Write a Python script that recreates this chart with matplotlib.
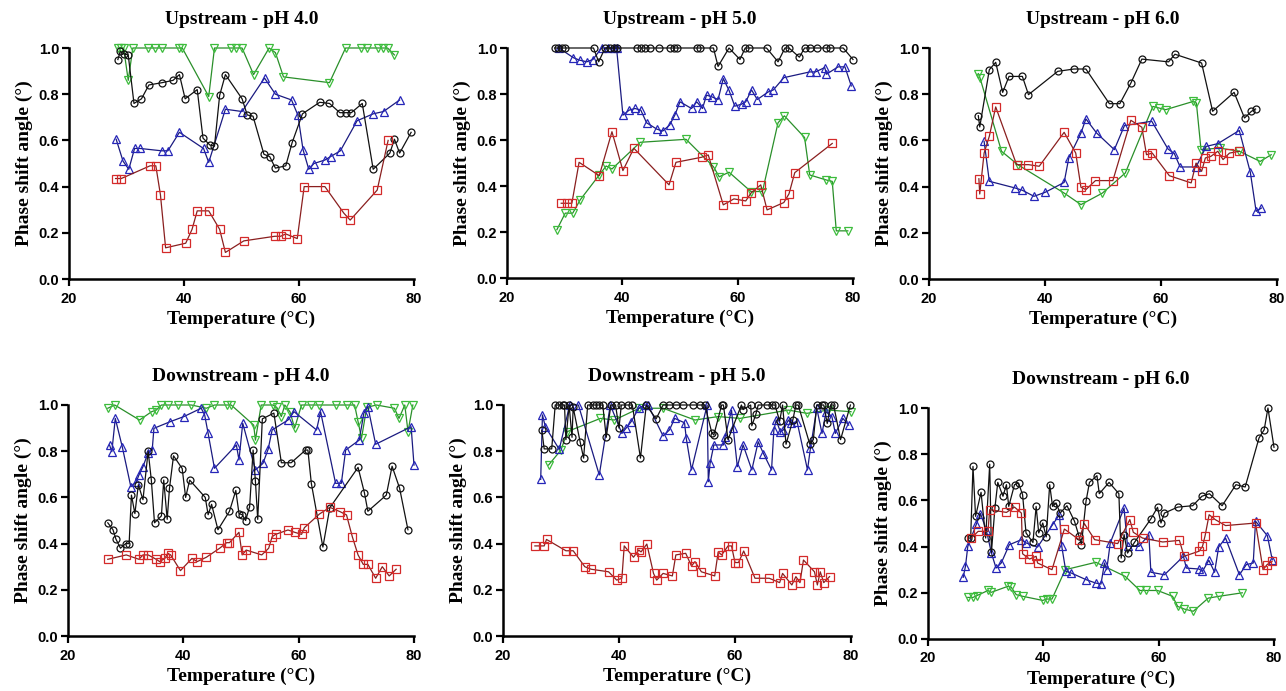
import matplotlib
matplotlib.use("Agg")
import matplotlib.pyplot as plt

# ---- Upstream pH 4.0 ----
up4_circ_t = [28.5, 28.9, 29.5, 30.3, 31.3, 32.6, 33.9, 36.2, 38.1, 39.2, 40.2, 42.3, 43.3, 44.5, 45.3,
              46.2, 47.2, 50.1, 51.0, 52.0, 53.9, 54.9, 55.9, 57.7, 58.8, 60.6, 63.6, 65.3, 67.1, 68.1,
              69.1, 71.0, 72.9, 75.8, 76.6, 77.5, 79.5]
up4_circ_y = [0.95, 0.985, 0.975, 0.97, 0.76, 0.78, 0.84, 0.85, 0.86, 0.885, 0.78, 0.82, 0.61, 0.58, 0.575,
              0.795, 0.885, 0.78, 0.71, 0.705, 0.54, 0.53, 0.48, 0.49, 0.59, 0.715, 0.765, 0.76, 0.72, 0.72,
              0.72, 0.76, 0.475, 0.545, 0.605, 0.545, 0.635]
up4_tri_t = [28.2, 29.4, 30.4, 31.4, 32.4, 36.1, 37.2, 39.2, 43.4, 44.3, 47.2, 50.1, 54.0, 55.9, 58.7,
             59.8, 60.7, 61.7, 62.6, 64.5, 65.5, 67.2, 70.1, 72.9, 74.7, 77.5]
up4_tri_y = [0.605, 0.51, 0.475, 0.565, 0.565, 0.555, 0.555, 0.635, 0.565, 0.505, 0.735, 0.725, 0.87, 0.80,
             0.775, 0.71, 0.56, 0.475, 0.50, 0.515, 0.53, 0.555, 0.685, 0.715, 0.725, 0.775]
up4_sq_t = [28.1, 29.1, 34.1, 35.1, 35.9, 36.8, 40.3, 41.4, 42.3, 44.3, 46.2, 47.2, 50.4, 55.8, 56.8,
            57.7, 59.7, 60.9, 64.5, 67.8, 68.9, 73.6, 75.5]
up4_sq_y = [0.435, 0.435, 0.49, 0.49, 0.365, 0.135, 0.155, 0.215, 0.295, 0.295, 0.215, 0.115, 0.165, 0.185,
            0.185, 0.195, 0.175, 0.40, 0.40, 0.285, 0.255, 0.385, 0.60]
up4_inv_t = [28.5, 29.0, 29.5, 30.3, 31.1, 33.7, 34.9, 36.2, 39.1, 39.7, 44.3, 45.3, 48.1, 49.1, 50.1,
             52.1, 54.8, 55.9, 57.3, 65.3, 68.1, 70.8, 71.9, 73.7, 74.6, 75.4, 76.6]
up4_inv_y = [1.0, 1.0, 1.0, 0.86, 1.0, 1.0, 1.0, 1.0, 1.0, 1.0, 0.79, 1.0, 1.0, 1.0, 1.0,
             0.885, 1.0, 0.98, 0.875, 0.85, 1.0, 1.0, 1.0, 1.0, 1.0, 1.0, 0.97]

# ---- Upstream pH 5.0 ----
up5_circ_t = [28.25, 28.8, 29.5, 30.1, 35.0, 35.9, 37.0, 37.9, 38.5, 39.0, 42.5, 43.2, 43.9, 44.8, 46.3,
              48.3, 48.9, 49.4, 52.9, 53.5, 55.8, 56.6, 58.5, 60.4, 61.3, 62.0, 65.0, 67.0, 68.2, 68.9,
              70.7, 71.6, 72.5, 73.7, 75.4, 76.0, 78.3, 80.0]
up5_circ_y = [1.0, 1.0, 1.0, 1.0, 1.0, 0.94, 1.0, 1.0, 1.0, 1.0, 1.0, 1.0, 1.0, 1.0, 1.0,
              1.0, 1.0, 1.0, 1.0, 1.0, 1.0, 0.92, 1.0, 0.95, 1.0, 1.0, 1.0, 0.94, 1.0, 1.0,
              0.96, 1.0, 1.0, 1.0, 1.0, 1.0, 1.0, 0.95]
up5_tri_t = [29.0, 31.5, 32.6, 33.85, 34.9, 36.4, 37.5, 38.5, 39.0, 40.1, 41.2, 42.2, 43.2, 44.2, 46.0,
             47.0, 48.2, 49.1, 50.0, 52.0, 52.9, 53.9, 54.6, 55.5, 56.6, 57.5, 58.5, 59.5, 60.7, 61.4,
             62.4, 63.4, 65.3, 66.2, 68.0, 72.5, 73.5, 75.1, 75.4, 77.4, 78.6, 79.7]
up5_tri_y = [1.0, 0.958, 0.947, 0.94, 0.95, 1.0, 1.0, 1.0, 1.0, 0.708, 0.73, 0.737, 0.73, 0.675, 0.647,
             0.639, 0.665, 0.708, 0.766, 0.737, 0.766, 0.737, 0.795, 0.788, 0.776, 0.867, 0.816, 0.747, 0.756, 0.766,
             0.818, 0.776, 0.809, 0.818, 0.871, 0.896, 0.896, 0.915, 0.886, 0.918, 0.918, 0.835]
up5_sq_t = [29.4, 30.4, 31.25, 32.5, 36.0, 38.2, 40.1, 42.0, 48.1, 49.3, 53.75, 54.9, 57.5, 59.35, 61.4,
            62.3, 64.0, 65.1, 68.0, 68.9, 69.9, 76.4]
up5_sq_y = [0.325, 0.325, 0.325, 0.503, 0.445, 0.636, 0.467, 0.564, 0.405, 0.503, 0.525, 0.535, 0.318, 0.344,
            0.335, 0.369, 0.405, 0.296, 0.328, 0.366, 0.458, 0.585]
up5_inv_t = [28.65, 30.1, 31.4, 32.7, 36.0, 37.2, 38.2, 43.1, 51.05, 55.8, 56.8, 58.5, 62.3, 64.3, 67.0,
             68.1, 71.6, 72.5, 75.4, 76.4, 77.1, 79.1]
up5_inv_y = [0.21, 0.282, 0.282, 0.34, 0.448, 0.487, 0.474, 0.59, 0.603, 0.484, 0.44, 0.46, 0.376, 0.376, 0.675,
             0.705, 0.611, 0.448, 0.426, 0.42, 0.205, 0.205]

# ---- Upstream pH 6.0 ----
up6_circ_t = [28.5, 28.75, 30.4, 31.5, 32.7, 33.8, 36.1, 37.15, 42.2, 45.0, 47.05, 51.1, 52.9, 54.8, 56.7,
              61.3, 62.4, 67.0, 68.9, 72.6, 74.4, 75.6, 76.3]
up6_circ_y = [0.707, 0.658, 0.906, 0.938, 0.808, 0.877, 0.877, 0.798, 0.899, 0.909, 0.909, 0.759, 0.759, 0.848,
              0.952, 0.94, 0.973, 0.935, 0.726, 0.808, 0.697, 0.726, 0.736]
up6_tri_t = [29.5, 30.4, 34.85, 36.1, 38.1, 40.0, 43.3, 44.1, 46.2, 47.05, 48.9, 51.95, 53.7, 58.4, 61.2,
             62.3, 63.3, 66.05, 67.8, 69.8, 73.5, 75.4, 76.4, 77.3]
up6_tri_y = [0.596, 0.423, 0.394, 0.384, 0.358, 0.375, 0.418, 0.524, 0.632, 0.693, 0.632, 0.56, 0.664, 0.683,
             0.563, 0.543, 0.485, 0.485, 0.574, 0.586, 0.643, 0.462, 0.293, 0.307]
up6_sq_t = [28.6, 28.75, 29.5, 30.4, 31.5, 35.1, 37.15, 39.0, 43.3, 45.3, 46.2, 47.05, 48.7, 51.7, 54.8,
            56.7, 57.5, 58.5, 61.45, 65.2, 66.05, 67.0, 67.65, 68.6, 69.8, 70.7, 71.8, 73.5]
up6_sq_y = [0.434, 0.368, 0.545, 0.618, 0.745, 0.495, 0.495, 0.488, 0.635, 0.545, 0.397, 0.387, 0.426, 0.426,
            0.687, 0.657, 0.538, 0.545, 0.447, 0.416, 0.502, 0.466, 0.524, 0.531, 0.553, 0.517, 0.545, 0.553]
up6_inv_t = [28.5, 28.8, 32.5, 35.3, 43.3, 46.2, 49.9, 53.85, 58.6, 59.7, 60.8, 65.6, 66.1, 66.9, 70.1,
             73.5, 77.1, 79.0]
up6_inv_y = [0.889, 0.87, 0.553, 0.495, 0.372, 0.322, 0.372, 0.459, 0.747, 0.74, 0.733, 0.769, 0.762, 0.56,
             0.567, 0.553, 0.509, 0.538]

# ---- Downstream pH 4.0 ----
dn4_circ_t = [26.9, 27.8, 28.3, 29.1, 30.0, 30.6, 31.0, 31.6, 32.2, 33.0, 33.9, 34.45, 35.0, 36.2, 36.6,
              37.2, 37.6, 38.3, 39.8, 40.4, 41.1, 43.8, 44.3, 44.9, 46.0, 48.0, 49.1, 49.65, 50.2, 50.8,
              51.5, 52.1, 52.5, 52.9, 53.7, 55.7, 57.0, 58.7, 61.2, 61.6, 62.2, 64.2, 65.4, 70.3, 71.4,
              72.0, 75.2, 76.2, 77.5, 78.95]
dn4_circ_y = [0.49, 0.46, 0.42, 0.38, 0.40, 0.40, 0.61, 0.53, 0.655, 0.59, 0.80, 0.675, 0.49, 0.52, 0.675,
              0.505, 0.64, 0.78, 0.725, 0.60, 0.675, 0.60, 0.525, 0.57, 0.46, 0.54, 0.63, 0.53, 0.525, 0.50,
              0.56, 0.805, 0.67, 0.505, 0.94, 0.965, 0.75, 0.75, 0.805, 0.805, 0.66, 0.385, 0.555, 0.73, 0.62,
              0.54, 0.61, 0.735, 0.64, 0.46]
dn4_tri_t = [27.2, 27.6, 28.2, 29.4, 30.9, 31.85, 32.3, 33.0, 33.9, 34.6, 34.9, 37.75, 40.1, 43.1, 43.7,
             44.3, 45.4, 49.2, 49.65, 50.3, 52.5, 53.8, 54.7, 55.4, 58.15, 59.2, 63.1, 63.8, 66.4, 67.4,
             68.15, 70.5, 71.3, 72.0, 73.35, 79.5, 80.0]
dn4_tri_y = [0.827, 0.798, 0.942, 0.82, 0.646, 0.668, 0.697, 0.733, 0.794, 0.805, 0.899, 0.928, 0.95, 0.986, 0.957,
             0.877, 0.726, 0.827, 0.762, 0.921, 0.719, 0.747, 0.808, 0.892, 0.935, 0.971, 0.892, 0.971, 0.661, 0.661,
             0.805, 0.848, 0.964, 0.993, 0.83, 0.906, 0.74]
dn4_sq_t = [26.9, 30.1, 32.3, 33.0, 33.9, 35.3, 35.9, 36.8, 37.3, 37.8, 39.5, 41.5, 42.4, 44.0, 46.3,
            47.5, 48.0, 49.65, 50.2, 50.9, 53.6, 54.8, 55.4, 56.0, 58.15, 59.3, 60.5, 61.0, 63.6, 65.4,
            67.2, 68.3, 69.3, 70.3, 71.2, 72.0, 73.35, 74.5, 75.7, 76.9]
dn4_sq_y = [0.332, 0.351, 0.332, 0.351, 0.351, 0.332, 0.322, 0.336, 0.358, 0.351, 0.283, 0.336, 0.322, 0.341, 0.38,
            0.404, 0.404, 0.449, 0.351, 0.372, 0.351, 0.38, 0.43, 0.44, 0.459, 0.449, 0.44, 0.469, 0.528, 0.557,
            0.538, 0.524, 0.43, 0.351, 0.31, 0.31, 0.25, 0.30, 0.26, 0.289]
dn4_inv_t = [26.9, 28.1, 32.4, 34.5, 35.3, 36.2, 37.3, 39.1, 41.4, 44.0, 45.4, 47.5, 48.3, 52.2, 52.5,
             53.5, 55.5, 56.2, 57.0, 57.6, 58.5, 59.3, 60.5, 62.2, 63.6, 66.5, 68.3, 69.7, 70.3, 70.9,
             71.8, 73.5, 76.6, 77.4, 78.4, 78.96, 79.8]
dn4_inv_y = [0.986, 1.0, 0.935, 0.971, 0.978, 1.0, 1.0, 1.0, 1.0, 0.986, 1.0, 1.0, 1.0, 0.913, 0.848,
             1.0, 1.0, 0.99, 0.95, 1.0, 0.97, 0.90, 1.0, 1.0, 1.0, 1.0, 1.0, 1.0, 0.928, 0.856,
             0.99, 1.0, 0.986, 0.942, 1.0, 0.885, 1.0]

# ---- Downstream pH 5.0 ----
dn5_circ_t = [26.7, 27.1, 28.4, 29.0, 29.7, 30.3, 30.6, 30.85, 31.4, 31.9, 32.1, 33.3, 33.9, 34.6, 35.5,
              36.0, 36.6, 37.2, 37.8, 38.6, 39.4, 40.0, 40.4, 41.5, 42.3, 43.7, 44.7, 46.4, 47.6, 48.7,
              49.9, 51.0, 52.8, 53.9, 54.8, 56.0, 56.35, 57.7, 58.0, 58.8, 61.1, 61.4, 62.7, 62.9, 63.6,
              64.0, 65.5, 66.3, 66.9, 67.7, 68.2, 68.8, 69.97, 70.5, 70.9, 72.9, 73.5, 74.1, 75.0, 75.3,
              75.9, 76.5, 77.0, 78.2, 79.9]
dn5_circ_y = [0.89, 0.81, 0.81, 1.0, 1.0, 1.0, 1.0, 0.85, 1.0, 0.86, 0.99, 0.84, 0.77, 1.0, 1.0,
              1.0, 1.0, 1.0, 0.86, 1.0, 1.0, 0.90, 1.0, 1.0, 1.0, 0.77, 1.0, 0.94, 1.0, 1.0,
              1.0, 1.0, 1.0, 1.0, 1.0, 0.88, 0.87, 1.0, 1.0, 0.85, 1.0, 0.98, 1.0, 0.91, 0.96,
              1.0, 1.0, 1.0, 1.0, 0.93, 1.0, 0.83, 0.935, 1.0, 1.0, 0.83, 0.85, 1.0, 1.0, 1.0,
              0.92, 1.0, 1.0, 0.85, 1.0]
dn5_tri_t = [26.5, 26.8, 27.3, 29.7, 31.5, 33.0, 36.6, 38.5, 40.5, 41.2, 42.1, 43.4, 44.4, 45.0, 47.6,
             48.7, 49.6, 51.3, 51.6, 52.5, 55.2, 55.4, 55.7, 56.35, 58.0, 58.3, 59.4, 59.7, 60.4, 61.4,
             62.9, 64.0, 64.9, 66.3, 66.7, 67.1, 67.8, 68.35, 69.2, 69.6, 70.7, 72.5, 73.0, 74.1, 75.0,
             75.7, 76.7, 77.3, 78.6, 79.6]
dn5_tri_y = [0.678, 0.957, 0.906, 0.808, 1.0, 1.0, 0.697, 1.0, 0.877, 0.899, 0.928, 0.986, 1.0, 1.0, 0.866,
             0.892, 0.942, 0.923, 0.855, 0.719, 1.0, 0.668, 0.747, 0.827, 0.827, 0.863, 0.978, 0.899, 0.733, 0.827,
             0.719, 0.841, 0.79, 0.719, 0.892, 0.935, 0.885, 0.892, 0.935, 0.921, 0.928, 0.719, 0.812, 0.986, 0.877,
             0.971, 0.95, 0.877, 0.942, 0.913]
dn5_sq_t = [25.5, 27.1, 27.5, 30.85, 32.1, 34.1, 35.2, 38.2, 39.6, 40.5, 40.9, 42.5, 43.4, 43.8, 44.8,
            45.95, 46.5, 47.6, 49.2, 49.8, 51.5, 52.5, 53.1, 54.2, 56.5, 57.1, 57.7, 58.8, 59.4, 60.0,
            60.6, 61.5, 63.45, 65.9, 67.7, 68.2, 69.8, 70.5, 71.2, 71.8, 73.7, 74.2, 74.7, 75.3, 76.3]
dn5_sq_y = [0.39, 0.39, 0.418, 0.369, 0.369, 0.30, 0.289, 0.278, 0.242, 0.25, 0.39, 0.341, 0.372, 0.364, 0.398,
            0.271, 0.242, 0.271, 0.26, 0.351, 0.358, 0.303, 0.322, 0.278, 0.26, 0.364, 0.351, 0.39, 0.39, 0.318,
            0.318, 0.368, 0.25, 0.25, 0.231, 0.271, 0.221, 0.257, 0.231, 0.329, 0.278, 0.221, 0.278, 0.231, 0.257]
dn5_inv_t = [27.85, 30.0, 31.1, 36.8, 39.2, 43.5, 47.6, 53.1, 57.1, 60.85, 69.2, 72.4, 76.1, 80.0]
dn5_inv_y = [0.74, 0.805, 0.885, 0.942, 0.935, 0.986, 0.986, 0.935, 0.95, 0.942, 0.978, 0.964, 0.978, 0.971]

# ---- Downstream pH 6.0 ----
dn6_circ_t = [26.9, 27.4, 27.8, 28.25, 29.2, 30.0, 30.7, 31.0, 31.6, 32.1, 33.0, 33.6, 34.0, 35.0, 35.7,
              36.4, 37.0, 38.2, 38.75, 39.2, 39.9, 40.5, 41.1, 41.6, 42.2, 42.9, 44.1, 45.4, 46.2, 46.6,
              47.4, 48.0, 49.3, 49.7, 51.4, 53.1, 53.5, 54.0, 54.6, 55.8, 58.65, 59.8, 60.4, 61.0, 63.3,
              65.9, 67.5, 68.8, 71.0, 73.4, 75.0, 77.4, 78.3, 78.95, 80.0]
dn6_circ_y = [0.437, 0.437, 0.747, 0.531, 0.635, 0.437, 0.757, 0.375, 0.567, 0.678, 0.618, 0.668, 0.574, 0.668, 0.675,
              0.625, 0.459, 0.418, 0.574, 0.459, 0.502, 0.442, 0.668, 0.574, 0.589, 0.545, 0.577, 0.51, 0.444, 0.408,
              0.596, 0.678, 0.707, 0.629, 0.678, 0.629, 0.35, 0.452, 0.372, 0.418, 0.52, 0.57, 0.502, 0.545, 0.571,
              0.577, 0.618, 0.629, 0.577, 0.668, 0.658, 0.87, 0.906, 1.0, 0.83]
dn6_tri_t = [26.1, 26.5, 26.9, 28.4, 29.1, 30.1, 31.0, 31.8, 32.7, 34.1, 36.2, 37.0, 39.0, 41.6, 42.8,
             43.2, 43.9, 44.8, 47.4, 49.1, 50.0, 50.6, 51.0, 51.6, 54.0, 54.6, 56.6, 58.3, 58.65, 61.0,
             64.3, 64.8, 67.0, 67.6, 68.7, 69.7, 70.4, 71.6, 74.0, 75.2, 76.4, 76.8, 78.85, 79.7]
dn6_tri_y = [0.267, 0.315, 0.401, 0.498, 0.543, 0.473, 0.372, 0.307, 0.329, 0.408, 0.43, 0.416, 0.398, 0.495, 0.538,
             0.401, 0.293, 0.286, 0.257, 0.242, 0.238, 0.329, 0.30, 0.416, 0.567, 0.401, 0.401, 0.451, 0.289, 0.278,
             0.358, 0.307, 0.303, 0.293, 0.341, 0.289, 0.398, 0.437, 0.278, 0.322, 0.329, 0.51, 0.447, 0.343]
dn6_sq_t = [27.5, 28.7, 30.4, 30.7, 33.6, 35.0, 36.2, 36.4, 37.6, 38.75, 39.0, 41.5, 43.65, 46.2, 47.1,
            48.9, 52.9, 55.0, 55.6, 57.2, 60.7, 63.6, 64.4, 67.0, 67.6, 68.05, 68.75, 69.8, 71.6, 76.8,
            78.1, 78.8, 79.65]
dn6_sq_y = [0.437, 0.466, 0.466, 0.56, 0.548, 0.571, 0.545, 0.369, 0.346, 0.358, 0.329, 0.30, 0.476, 0.43, 0.50,
            0.43, 0.413, 0.517, 0.462, 0.437, 0.42, 0.427, 0.358, 0.38, 0.401, 0.447, 0.538, 0.517, 0.491, 0.502,
            0.30, 0.322, 0.336]
dn6_inv_t = [26.9, 27.8, 28.5, 30.4, 30.96, 33.85, 34.4, 35.3, 36.4, 39.9, 40.6, 41.5, 43.8, 49.1, 54.2,
             56.75, 57.8, 59.8, 62.4, 63.3, 64.4, 66.0, 68.6, 70.5, 74.5]
dn6_inv_y = [0.18, 0.18, 0.188, 0.21, 0.202, 0.228, 0.225, 0.192, 0.185, 0.167, 0.173, 0.173, 0.30, 0.332, 0.271,
             0.21, 0.21, 0.21, 0.185, 0.141, 0.13, 0.12, 0.177, 0.185, 0.20]

titles = ["Upstream - pH 4.0", "Upstream - pH 5.0", "Upstream - pH 6.0",
          "Downstream - pH 4.0", "Downstream - pH 5.0", "Downstream - pH 6.0"]

panels = [
    (up4_circ_t, up4_circ_y, up4_tri_t, up4_tri_y, up4_sq_t, up4_sq_y, up4_inv_t, up4_inv_y),
    (up5_circ_t, up5_circ_y, up5_tri_t, up5_tri_y, up5_sq_t, up5_sq_y, up5_inv_t, up5_inv_y),
    (up6_circ_t, up6_circ_y, up6_tri_t, up6_tri_y, up6_sq_t, up6_sq_y, up6_inv_t, up6_inv_y),
    (dn4_circ_t, dn4_circ_y, dn4_tri_t, dn4_tri_y, dn4_sq_t, dn4_sq_y, dn4_inv_t, dn4_inv_y),
    (dn5_circ_t, dn5_circ_y, dn5_tri_t, dn5_tri_y, dn5_sq_t, dn5_sq_y, dn5_inv_t, dn5_inv_y),
    (dn6_circ_t, dn6_circ_y, dn6_tri_t, dn6_tri_y, dn6_sq_t, dn6_sq_y, dn6_inv_t, dn6_inv_y),
]

# axes boxes in pixels: left, right, top, bottom
boxes = [(69, 414, 48, 279), (507, 853, 48, 278), (929, 1277, 48, 279),
         (68, 414, 405, 636), (503, 851, 405, 636), (928, 1274, 408, 639)]

W, H = 1286, 691
SERIF = "Liberation Serif"
SANS = "Liberation Sans"

# (marker, marker edge colour, line colour)
styles = [("o", "#111111", "#111111"),
          ("^", "#2626b8", "#1a1a80"),
          ("s", "#d42a2a", "#8a1f1f"),
          ("v", "#3cbc3c", "#2a8f2a")]
draw_order = [3, 1, 0, 2]

fig = plt.figure(figsize=(W / 100, H / 100), dpi=100)

for (title, data, box) in zip(titles, panels, boxes):
    l, r, t, b = box
    ax = fig.add_axes([l / W, (H - b) / H, (r - l) / W, (b - t) / H])
    for k in draw_order:
        mk, mc, lc = styles[k]
        ax.plot(data[2 * k], data[2 * k + 1], color=lc, lw=0.9, marker=mk, ms=5.5 if mk != "o" else 5,
                mfc="none", mec=mc, mew=0.9, clip_on=False)
    ax.set_xlim(20, 80)
    ax.set_ylim(0, 1.0)
    ax.set_xticks([20, 40, 60, 80])
    ax.set_yticks([0.0, 0.2, 0.4, 0.6, 0.8, 1.0])
    ax.set_yticklabels(["0.0", "0.2", "0.4", "0.6", "0.8", "1.0"])
    for s in ["top", "right"]:
        ax.spines[s].set_visible(False)
    for s in ["left", "bottom"]:
        ax.spines[s].set_linewidth(1.8)
    ax.tick_params(direction="out", length=5, width=1.6)
    ax.tick_params(axis="x", pad=4)
    ax.tick_params(axis="y", pad=2)
    for lab in ax.get_xticklabels() + ax.get_yticklabels():
        lab.set_fontfamily(SANS)
        lab.set_fontweight("bold")
        lab.set_fontsize(10.5)
    ax.set_title(title, fontfamily=SERIF, fontweight="bold", fontsize=14, pad=17)
    ax.set_xlabel("Temperature (\u00b0C)", fontfamily=SERIF, fontweight="bold", fontsize=14, labelpad=4)
    ax.set_ylabel("Phase shift angle (\u00b0)", fontfamily=SERIF, fontweight="bold", fontsize=14, labelpad=4)

fig.savefig("out.png", dpi=100)
